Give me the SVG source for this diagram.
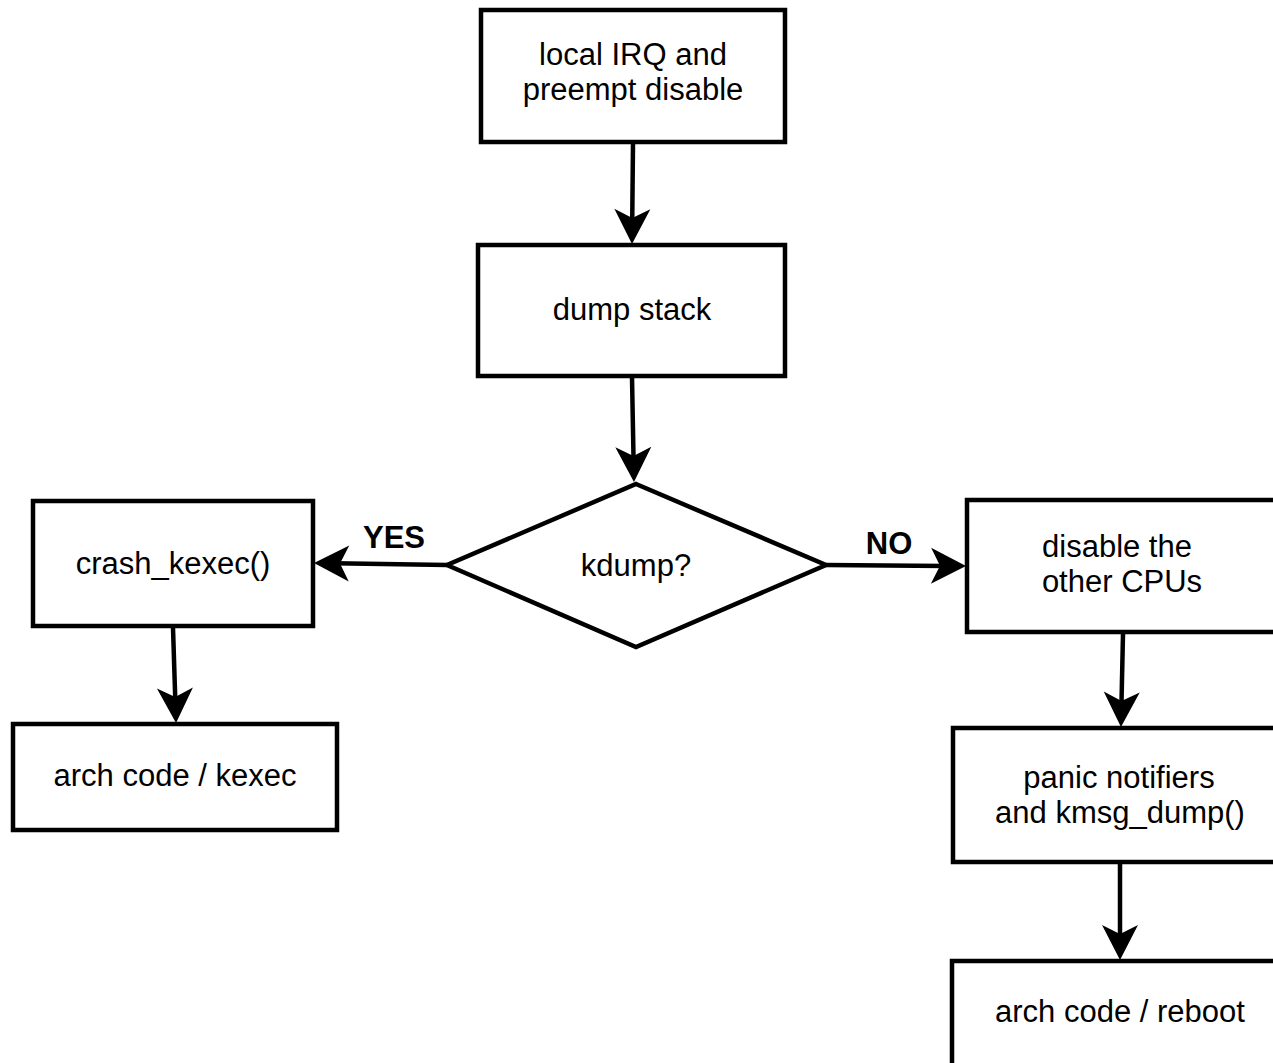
<svg xmlns="http://www.w3.org/2000/svg" width="1273" height="1063" viewBox="0 0 1273 1063">
<style>
.box{fill:#fff;stroke:#000;stroke-width:4.5}
.t{font-family:"Liberation Sans",Arial,sans-serif;font-size:31px;fill:#000;text-anchor:middle}
.lb{font-family:"Liberation Sans",Arial,sans-serif;font-size:31px;font-weight:bold;fill:#000;text-anchor:middle}
.c{fill:none;stroke:#000;stroke-width:4.5}
</style>
<defs>
<marker id="arr" viewBox="-37 -20 40 40" markerWidth="40" markerHeight="40" refX="-20" refY="0" orient="auto" markerUnits="userSpaceOnUse">
<path d="M0,0 L-35,-18 L-26,0 L-35,18 Z" fill="#000"/>
</marker>
</defs>
<rect width="1273" height="1063" fill="#fff"/>
<g id="n1"><rect class="box" x="481" y="10" width="304" height="132"/><text class="t" x="633" y="65">local IRQ and</text><text class="t" x="633" y="100">preempt disable</text></g>
<g id="n2"><rect class="box" x="478" y="245" width="307" height="131"/><text class="t" x="632" y="320">dump stack</text></g>
<g id="n3"><polygon class="box" points="636,484 826,565 636,647 447,565"/><text class="t" x="636" y="576">kdump?</text></g>
<g id="n4"><rect class="box" x="33" y="501" width="280" height="125"/><text class="t" x="173" y="574">crash_kexec()</text></g>
<g id="n5"><rect class="box" x="13" y="724" width="324" height="106"/><text class="t" x="175" y="786">arch code / kexec</text></g>
<g id="n6"><rect class="box" x="967" y="500" width="330" height="132"/><text class="t" x="1117" y="557">disable the</text><text class="t" x="1122" y="592">other CPUs</text></g>
<g id="n7"><rect class="box" x="953" y="728" width="340" height="134"/><text class="t" x="1119" y="788">panic notifiers</text><text class="t" x="1120" y="823">and kmsg_dump()</text></g>
<g id="n8"><rect class="box" x="952" y="961" width="340" height="120"/><text class="t" x="1120" y="1022">arch code / reboot</text></g>
<g id="connectors">
<line class="c" x1="633" y1="143" x2="632.2" y2="224" marker-end="url(#arr)"/>
<line class="c" x1="632" y1="377" x2="633.6" y2="462" marker-end="url(#arr)"/>
<line class="c" x1="447" y1="565" x2="334" y2="563.3" marker-end="url(#arr)"/>
<line class="c" x1="826" y1="565" x2="946" y2="565.9" marker-end="url(#arr)"/>
<line class="c" x1="173" y1="628" x2="175.4" y2="703" marker-end="url(#arr)"/>
<line class="c" x1="1123" y1="634" x2="1121.4" y2="707" marker-end="url(#arr)"/>
<line class="c" x1="1120" y1="863" x2="1120" y2="940" marker-end="url(#arr)"/>
<text class="lb" x="394" y="548">YES</text>
<text class="lb" x="889" y="554">NO</text>
</g>
</svg>
